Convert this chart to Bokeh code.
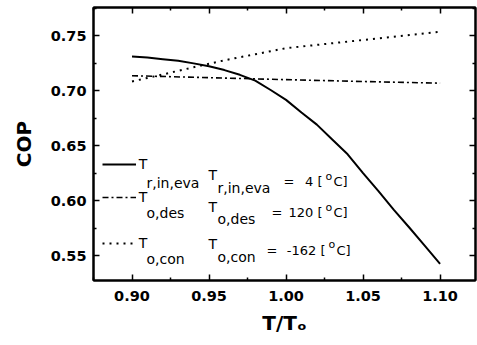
import math
from bokeh.plotting import figure
from bokeh.models import (Range1d, LinearAxis, FixedTicker, PrintfTickFormatter,
                          CustomJSTickFormatter, Label, Legend, LegendItem)
from bokeh.embed import file_html
from bokeh.resources import INLINE

# ---------------- data ----------------
t_ratio = [0.90, 0.91, 0.92, 0.93, 0.94, 0.95, 0.96, 0.97, 0.98, 0.99, 1.00,
           1.01, 1.02, 1.03, 1.04, 1.05, 1.06, 1.07, 1.08, 1.09, 1.10]
cop_t_r_in_eva = [0.731, 0.730, 0.7285, 0.727, 0.7247, 0.722, 0.7186, 0.7143, 0.709,
                  0.7005, 0.6915, 0.680, 0.669, 0.6555, 0.642, 0.625, 0.6085,
                  0.5915, 0.5755, 0.559, 0.5425]
t_ratio_des = [0.90, 0.95, 1.00, 1.05, 1.10]
cop_t_o_des = [0.7135, 0.7117, 0.7099, 0.7082, 0.7067]
t_ratio_con = [0.90, 0.92, 0.94, 0.96, 0.98, 1.00, 1.02, 1.04, 1.06, 1.08, 1.10]
cop_t_o_con = [0.7083, 0.7146, 0.7212, 0.7275, 0.7330, 0.7385, 0.7415, 0.7445,
               0.7475, 0.7505, 0.7535]

x_ticks = [0.90, 0.95, 1.00, 1.05, 1.10]
y_ticks = [0.55, 0.60, 0.65, 0.70, 0.75]
x_minor = [0.875, 0.925, 0.975, 1.025, 1.075, 1.125]
y_minor = [0.525, 0.575, 0.625, 0.675, 0.725, 0.775]

series_subs = ["r,in,eva", "o,des", "o,con"]
set_values = ["4", "120", "-162"]
y_label = "COP"
x_label = "T/T\u2092"

# ---------------- layout ----------------
W, H = 477, 345
ML, MR, MT, MB = 93, 2, 7, 65
X0, X1 = 0.875, 1.123
Y0, Y1 = 0.5273, 0.7755
FW, FH = W - ML - MR, H - MT - MB


def dx(px):
    return X0 + (px - ML) * (X1 - X0) / FW


def dy(py):
    return Y1 - (py - MT) * (Y1 - Y0) / FH


p = figure(width=W, height=H, x_range=Range1d(X0, X1), y_range=Range1d(Y0, Y1),
           output_backend="svg", toolbar_location=None,
           min_border_left=ML, min_border_right=MR, min_border_top=MT,
           min_border_bottom=MB)
p.grid.visible = False
p.outline_line_color = "black"
p.outline_line_width = 2
p.background_fill_color = "white"
p.border_fill_color = "white"

xt = FixedTicker(ticks=x_ticks, minor_ticks=x_minor)
yt = FixedTicker(ticks=y_ticks, minor_ticks=y_minor)


def style_axis(ax, labels=True):
    ax.axis_line_width = 2
    ax.axis_line_color = "black"
    ax.major_tick_in = 6
    ax.major_tick_out = 0
    ax.minor_tick_in = 3
    ax.minor_tick_out = 0
    ax.major_tick_line_width = 1.5
    ax.minor_tick_line_width = 1.5
    ax.major_tick_line_color = "black"
    ax.minor_tick_line_color = "black"
    if labels:
        ax.formatter = PrintfTickFormatter(format="%.2f")
        ax.major_label_text_font = "DejaVu Sans"
        ax.major_label_text_font_style = "bold"
        ax.major_label_text_font_size = "14.5px"
        ax.major_label_text_color = "black"
        ax.axis_label_text_font = "DejaVu Sans"
        ax.axis_label_text_font_style = "bold"
        ax.axis_label_text_font_size = "20px"
        ax.axis_label_text_color = "black"
    else:
        ax.formatter = CustomJSTickFormatter(code="return ''")
        ax.major_label_text_font_size = "0px"
        ax.major_label_standoff = 0


xa = p.xaxis[0]
xa.ticker = xt
style_axis(xa)
xa.major_label_standoff = 10
xa.axis_label = x_label
xa.axis_label_standoff = 7
ya = p.yaxis[0]
ya.ticker = yt
style_axis(ya)
ya.major_label_standoff = 7
ya.axis_label = y_label
ya.axis_label_standoff = 12

top = LinearAxis(ticker=xt)
style_axis(top, labels=False)
p.add_layout(top, "above")
right = LinearAxis(ticker=yt)
style_axis(right, labels=False)
p.add_layout(right, "right")

# ---------------- curves ----------------
r1 = p.line(t_ratio, cop_t_r_in_eva, line_color="black", line_width=2)
r2 = p.line(t_ratio_des, cop_t_o_des, line_color="black", line_width=1.6,
            line_dash="6 3 2 3")
r3 = p.line(t_ratio_con, cop_t_o_con, line_color="black", line_width=2,
            line_dash="2 5")

# ---------------- legend (line samples + "T") ----------------
legend_bottoms = [105.7, 73.3, 26.7]
for r, yb in zip([r1, r2, r3], legend_bottoms):
    leg = Legend(items=[LegendItem(label="T", renderers=[r])], location=(8.7, yb),
                 glyph_width=34, glyph_height=20, label_height=20, label_width=8,
                 label_standoff=3, padding=0, margin=0, spacing=0,
                 border_line_color=None, background_fill_alpha=0,
                 label_text_font="DejaVu Sans", label_text_font_size="14px",
                 label_text_color="black")
    p.add_layout(leg)


def add_text(text, px, py, size, bold=False, align="left", baseline="alphabetic"):
    p.add_layout(Label(x=dx(px), y=dy(py), text=text, text_font="DejaVu Sans",
                       text_font_size=f"{size}px",
                       text_font_style="bold" if bold else "normal",
                       text_align=align, text_baseline=baseline,
                       text_color="black"))


# first column subscripts
for sub, yb in zip(series_subs, [182, 212.5, 258.5]):
    add_text(sub, 146, yb, 14)

# second column: T_sub = value [oC]
rows = [(174, 187, 181), (206, 218, 212), (243, 256, 249.5)]
shifts = [0, 0, 3]
eq_x = [283, 271, 266]
for sub, val, (tb, sb, mb), sh, ex in zip(series_subs, set_values, rows, shifts, eq_x):
    add_text("T", 208, tb, 14)
    add_text(sub, 217, sb, 14)
    add_text("=", ex, mb, 13)
    add_text(f"{val} [", 322 + sh, mb, 13, align="right")
    add_text("o", 325 + sh, mb - 5.5, 11)
    add_text("C]", 333 + sh, mb, 13)

open("out.html", "w").write(file_html(p, INLINE))
